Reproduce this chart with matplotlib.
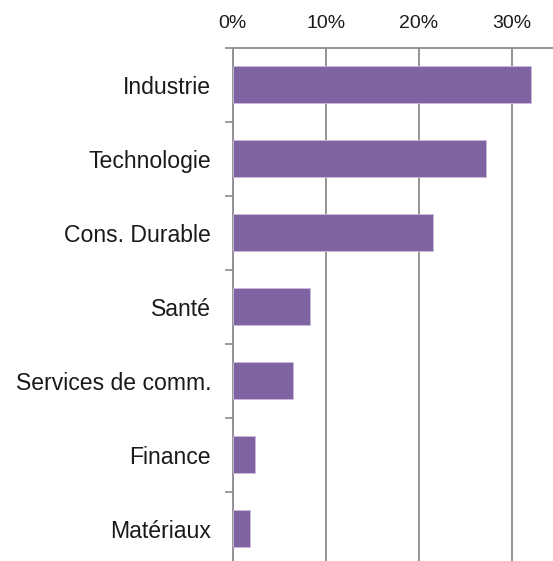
import numpy as np
import matplotlib
matplotlib.use('Agg')
import matplotlib.pyplot as plt
from matplotlib.ticker import FuncFormatter

# sector weights (fraction), top to bottom
sectors = ['Industrie', 'Technologie', 'Cons. Durable', 'Santé',
           'Services de comm.', 'Finance', 'Matériaux']
weights = [0.321, 0.272, 0.215, 0.083, 0.0645, 0.0235, 0.019]
xticks = [0.0, 0.1, 0.2, 0.3]

plt.rcParams['font.family'] = ['Liberation Sans', 'DejaVu Sans']

fig = plt.figure(figsize=(5.53, 5.61), dpi=100)
ax = fig.add_axes([232.7 / 553, -4.5 / 561, 325.5 / 553, 518 / 561])

y = np.arange(len(sectors))
ax.barh(y, weights, height=0.5, color='#8064a2', edgecolor='#cbbbe0',
        linewidth=0.6, zorder=3)

ax.set_xlim(0, 0.35)
ax.set_ylim(len(sectors) - 0.5, -0.5)

ax.xaxis.tick_top()
ax.set_xticks(xticks)
ax.xaxis.set_major_formatter(FuncFormatter(lambda v, p: f'{v * 100:.0f}%'))
ax.tick_params(axis='x', length=0, pad=11, labelsize=14, colors='#1a1a1a')
ax.grid(axis='x', color='#8c8c8c', linewidth=1.3, zorder=1)

ax.set_yticks(y)
ax.set_yticklabels(sectors)
ax.set_yticks(np.arange(len(sectors) + 1) - 0.5, minor=True)
ax.tick_params(axis='y', which='major', length=0, pad=15.5, labelsize=16.6, labelcolor='#1a1a1a')
ax.tick_params(axis='y', which='minor', length=5.5, width=1.2, color='#8c8c8c')

for s in ['right', 'bottom']:
    ax.spines[s].set_visible(False)
for s in ['left', 'top']:
    ax.spines[s].set_color('#8c8c8c')
    ax.spines[s].set_linewidth(1.3)

fig.savefig('out.png', dpi=100)
